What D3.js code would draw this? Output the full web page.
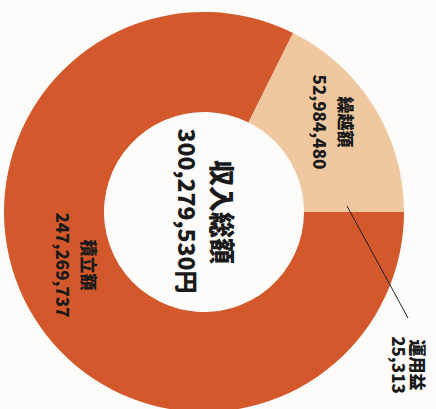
<!DOCTYPE html>
<html>
<head>
	<meta charset="utf-8">
	<title>収入総額</title>
	<script src="https://cdn.jsdelivr.net/npm/d3@7"></script>
	<style type="text/css">
		body { margin: 0; background: #fdfcfa; }
		.donut text { font-family: "Noto Sans CJK JP", "Noto Sans", sans-serif; font-weight: 900; fill: #1a1a1a; }
	</style>
</head>
<body>

	<svg width=436 height=409 class="donut"></svg>

	<script type="text/javascript">

		// data, in drawing order (clockwise from the top of the un-rotated chart)
		var names = ['積立額', '繰越額', '運用益']
		var amounts = [247269737, 52984480, 25313]
		var colors = ['#d3582b', '#f0c8a0', '#d3582b']
		var totalLabel = '収入総額'
		var totalText = '300,279,530円'

		var svg_ele = '.donut'
		var cx = 204, cy = 212
		var outerR = 200, innerR = 100

		var rows = names.map(function(n, i) { return {name: n, value: amounts[i], color: colors[i]} })

		// the printed chart is turned a quarter turn clockwise
		var g_main = d3.select(svg_ele)
			.append('g')
			.attr('transform', 'translate(' + cx + ',' + cy + ') rotate(90)')

		var pie = d3.pie()
			.sort(null)
			.value(function(d) { return d.value })

		var arcs = pie(rows)

		var arcGenerator = d3.arc()
			.innerRadius(innerR)
			.outerRadius(outerR)

		g_main.selectAll('.slice')
			.data(arcs)
			.enter()
			.append('path')
			.attr('class', 'slice')
			.attr('d', arcGenerator)
			.attr('fill', function(d) { return d.data.color })

		// inside labels sit near the middle of the ring, nudged a little
		var labelArc = d3.arc().innerRadius(150).outerRadius(150)
		var nudge = {'積立額': [-26, 2], '繰越額': [-11, 0]}

		arcs.filter(function(d) { return nudge[d.data.name] }).forEach(function(d) {
			var c = labelArc.centroid(d)
			var x = c[0] + nudge[d.data.name][0]
			var y = c[1] + nudge[d.data.name][1]
			var t = g_main.append('text')
				.attr('text-anchor', 'middle')
				.attr('font-size', 17)
			t.append('tspan').attr('x', x).attr('y', y - 13).attr('dy', '0.35em').text(d.data.name)
			t.append('tspan').attr('x', x).attr('y', y + 13).attr('dy', '0.35em').text(d3.format(',')(d.data.value))
		})

		// the tiny slice gets a leader line out to its label
		var small = arcs[2]
		var mid = (small.startAngle + small.endAngle) / 2
		var lineStart = [143 * Math.sin(mid) - 6, -143 * Math.cos(mid)]
		var lineEnd = [106, -204]

		g_main.append('line')
			.attr('x1', lineStart[0]).attr('y1', lineStart[1])
			.attr('x2', lineEnd[0]).attr('y2', lineEnd[1])
			.attr('stroke', '#222')
			.attr('stroke-width', 1)

		var st = g_main.append('text')
			.attr('text-anchor', 'middle')
			.attr('font-size', 17)
		st.append('tspan').attr('x', lineEnd[0] + 47).attr('y', lineEnd[1] - 9).attr('dy', '0.35em').text(small.data.name)
		st.append('tspan').attr('x', lineEnd[0] + 47).attr('y', lineEnd[1] + 10).attr('dy', '0.35em').text(d3.format(',')(small.data.value))

		// total in the hole
		g_main.append('text')
			.attr('text-anchor', 'middle')
			.attr('font-size', 26)
			.attr('x', 0).attr('y', -17).attr('dy', '0.35em')
			.text(totalLabel)

		g_main.append('text')
			.attr('text-anchor', 'middle')
			.attr('font-size', 23)
			.attr('x', -1).attr('y', 18).attr('dy', '0.35em')
			.text(totalText)

	</script>

</body>
</html>
